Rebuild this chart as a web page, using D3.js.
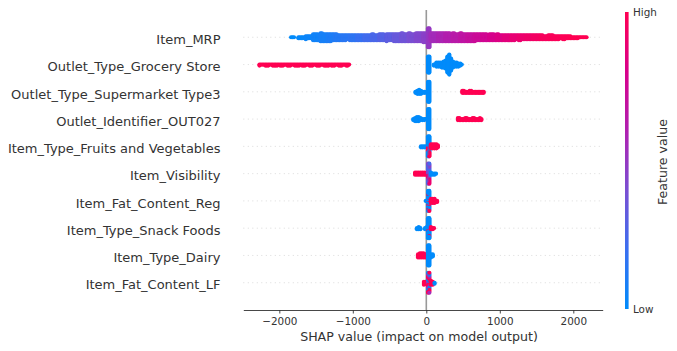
<!DOCTYPE html>
<html lang="en">
<head>
  <meta charset="UTF-8">
  <title>SHAP summary plot</title>
  <script src="https://d3js.org/d3.v7.min.js"></script>
  <style>
    body {
      margin: 0;
      background: #fff;
    }
    svg {
      display: block;
      font-family: "DejaVu Sans", sans-serif;
    }
    .ylab {
      font-size: 13px;
      fill: #333;
    }
  </style>
</head>
<body>
  <svg id="chart" width="677" height="351"></svg>

  <script>
    // Features, top to bottom
    const features = [
      "Item_MRP",
      "Outlet_Type_Grocery Store",
      "Outlet_Type_Supermarket Type3",
      "Outlet_Identifier_OUT027",
      "Item_Type_Fruits and Vegetables",
      "Item_Visibility",
      "Item_Fat_Content_Reg",
      "Item_Type_Snack Foods",
      "Item_Type_Dairy",
      "Item_Fat_Content_LF"
    ];

    // Each bin: [shap from, shap to, number of samples, feature value 0..1]
    const binsMRP = [
      [-1850, -1750, 3, 0.0], [-1750, -1650, 9, 0.02], [-1650, -1550, 16, 0.04],
      [-1550, -1450, 34, 0.06], [-1450, -1350, 42, 0.08], [-1350, -1250, 38, 0.1],
      [-1250, -1150, 32, 0.12], [-1150, -1050, 28, 0.14], [-1050, -950, 30, 0.16],
      [-950, -850, 30, 0.19], [-850, -750, 30, 0.22], [-750, -650, 32, 0.25],
      [-650, -550, 34, 0.28], [-550, -450, 36, 0.31], [-450, -350, 40, 0.34],
      [-350, -250, 42, 0.37], [-250, -150, 42, 0.4], [-150, -50, 45, 0.43],
      [-50, 15, 30, 0.46], [15, 50, 40, 0.5],
      [50, 150, 45, 0.55], [150, 250, 45, 0.58], [250, 350, 44, 0.61],
      [350, 450, 42, 0.64], [450, 550, 42, 0.67], [550, 650, 40, 0.7],
      [650, 750, 36, 0.73], [750, 850, 34, 0.76], [850, 950, 34, 0.79],
      [950, 1050, 32, 0.82], [1050, 1150, 30, 0.85], [1150, 1250, 28, 0.88],
      [1250, 1350, 27, 0.9], [1350, 1450, 25, 0.92], [1450, 1550, 25, 0.94],
      [1550, 1650, 22, 0.96], [1650, 1750, 24, 0.97], [1750, 1850, 18, 0.98],
      [1850, 1950, 17, 0.99], [1950, 2050, 11, 1], [2050, 2150, 6, 1], [2150, 2190, 2, 1]
    ];

    const binsGrocery = [
      [-2280, -2200, 5, 1], [-2200, -2100, 8, 1], [-2100, -2000, 9, 1], [-2000, -1900, 8, 1],
      [-1900, -1800, 8, 1], [-1800, -1700, 9, 1], [-1700, -1600, 8, 1], [-1600, -1500, 8, 1],
      [-1500, -1400, 8, 1], [-1400, -1300, 9, 1], [-1300, -1200, 8, 1], [-1200, -1100, 8, 1],
      [-1100, -1040, 5, 1],
      [15, 50, 34, 0],
      [95, 125, 3, 0], [125, 150, 5, 0], [150, 175, 5, 0], [175, 200, 5, 0],
      [200, 225, 6, 0], [225, 250, 7, 0], [250, 275, 9, 0], [275, 300, 17, 0],
      [300, 325, 21, 0], [325, 350, 13, 0], [350, 375, 7, 0], [375, 400, 5, 0],
      [400, 425, 5, 0], [425, 450, 4, 0], [450, 475, 3, 0], [475, 505, 1, 0]
    ];

    const binsSuper3 = [
      [-160, -135, 2, 0], [-135, -110, 4, 0], [-110, -85, 5, 0], [-85, -60, 4, 0],
      [-60, -35, 2, 0], [-35, -10, 2, 0], [-10, 15, 2, 0],
      [15, 50, 42, 0],
      [480, 580, 12, 1], [580, 680, 12, 1], [680, 790, 12, 1]
    ];

    const binsOUT027 = [
      [-190, -165, 2, 0], [-165, -140, 4, 0], [-140, -115, 5, 0], [-115, -90, 5, 0],
      [-90, -65, 3, 0], [-65, -40, 2, 0], [-40, -15, 2, 0], [-15, 15, 2, 0],
      [15, 50, 42, 0],
      [420, 520, 12, 1], [520, 620, 12, 1], [620, 720, 12, 1], [720, 760, 5, 1]
    ];

    const binsFruits = [
      [-85, -60, 2, 0], [-60, -35, 2, 0], [-35, -10, 2, 0], [-10, 15, 2, 0],
      [15, 50, 32, 0], [15, 50, 10, 1],
      [50, 75, 5, 1], [75, 100, 5, 1], [100, 125, 5, 1], [125, 150, 5, 1], [150, 165, 3, 1]
    ];

    const binsVisibility = [
      [-165, -140, 3, 1], [-140, -115, 3, 1], [-115, -90, 3, 1], [-90, -65, 3, 1],
      [-65, -40, 3, 1], [-40, -15, 3, 1], [-15, 15, 3, 1],
      [15, 50, 20, 0.25], [15, 50, 12, 0.45], [15, 50, 10, 0.9],
      [50, 75, 3, 0], [75, 100, 2, 0], [100, 125, 2, 0], [125, 140, 1, 0]
    ];

    const binsFatReg = [
      [-15, 15, 2, 0],
      [15, 50, 34, 0], [15, 50, 8, 1],
      [50, 75, 5, 1], [75, 100, 5, 1], [100, 125, 5, 1], [125, 155, 4, 1]
    ];

    const binsSnack = [
      [-140, -115, 2, 0], [-115, -90, 3, 0], [-90, -70, 2, 0],
      [-30, -5, 2, 0], [-5, 15, 3, 0],
      [15, 50, 40, 0], [15, 50, 2, 1],
      [50, 75, 3, 1], [75, 100, 2, 1], [100, 110, 1, 1]
    ];

    const binsDairy = [
      [-125, -100, 4, 1], [-100, -75, 5, 1], [-75, -50, 5, 1], [-50, -25, 5, 1], [-25, 15, 8, 1],
      [15, 50, 42, 0],
      [50, 75, 4, 0], [75, 100, 3, 0]
    ];

    const binsFatLF = [
      [-45, -20, 4, 1], [-20, 15, 6, 1],
      [15, 50, 18, 1], [15, 50, 12, 0.55], [15, 50, 12, 0],
      [50, 75, 5, 1], [75, 100, 4, 1], [100, 125, 2, 0]
    ];

    const rows = [binsMRP, binsGrocery, binsSuper3, binsOUT027, binsFruits,
                  binsVisibility, binsFatReg, binsSnack, binsDairy, binsFatLF];

    const xTicks = [-2000, -1000, 0, 1000, 2000];

    // colour map stops, low -> high
    const cmapStops = ["#008bfb", "#3a6ff0", "#7a4fd2", "#b020b0", "#d8008a", "#ff0052"];

    const svg = d3.select("#chart");

    // Scales
    const x = d3.scaleLinear().domain([-2490, 2400]).range([243.3, 602.7]);
    const y = d3.scaleLinear().domain([-1, features.length]).range([310, 10]);
    const rowY = i => y(features.length - 1 - i);
    const color = d3.piecewise(d3.interpolateRgb, cmapStops);

    const r = 2.1;
    const layerGap = 1;

    // Row guide lines and zero line
    svg.append("g")
      .selectAll("line")
      .data(features)
      .join("line")
      .attr("x1", x.range()[0])
      .attr("x2", x.range()[1])
      .attr("y1", (d, i) => rowY(i))
      .attr("y2", (d, i) => rowY(i))
      .attr("stroke", "#ccc")
      .attr("stroke-width", 0.7)
      .attr("stroke-dasharray", "1,3.5");

    svg.append("line")
      .attr("x1", x(0)).attr("x2", x(0))
      .attr("y1", y.range()[1]).attr("y2", y.range()[0])
      .attr("stroke", "#999")
      .attr("stroke-width", 1.6);

    // Beeswarm layout: stack the samples of each bin around the row centre
    function layout(bins, i) {
      const groups = d3.groups(bins, d => d[0] + "|" + d[1]);
      const pts = [];
      groups.forEach(([, parts]) => {
        const lo = parts[0][0], hi = parts[0][1];
        // mix the colours of parts that share a bin
        const mixed = [];
        parts.forEach(p => {
          for (let k = 0; k < p[2]; k++) mixed.push({ key: (k + 0.5) / p[2], fv: p[3] });
        });
        mixed.sort((a, b) => a.key - b.key);
        const px0 = x(lo), px1 = x(hi);
        const cols = Math.max(1, Math.round((px1 - px0) / 1.4));
        mixed.forEach((m, k) => {
          const col = k % cols;
          const layer = Math.floor(k / cols);
          const off = layer === 0 ? 0 : (layer % 2 ? (layer + 1) / 2 : -layer / 2);
          pts.push({
            cx: px0 + (col + 0.5) * (px1 - px0) / cols,
            cy: rowY(i) + off * layerGap,
            fv: m.fv
          });
        });
      });
      return pts;
    }

    rows.forEach((bins, i) => {
      svg.append("g")
        .selectAll("circle")
        .data(layout(bins, i))
        .join("circle")
        .attr("cx", d => d.cx)
        .attr("cy", d => d.cy)
        .attr("r", r)
        .attr("fill", d => color(d.fv));
    });

    // Feature names
    svg.append("g")
      .selectAll("text")
      .data(features)
      .join("text")
      .attr("class", "ylab")
      .attr("x", 220.5)
      .attr("y", (d, i) => rowY(i) + 2.2)
      .attr("text-anchor", "end")
      .attr("dominant-baseline", "central")
      .text(d => d);

    // x axis
    const xAxis = svg.append("g")
      .attr("transform", "translate(0,310)")
      .call(d3.axisBottom(x).tickValues(xTicks).tickFormat(d3.format("d"))
        .tickSize(3.5).tickSizeOuter(0).tickPadding(4));
    xAxis.select(".domain").attr("stroke", "#333").attr("stroke-width", 0.9);
    xAxis.selectAll(".tick line").attr("stroke", "#333").attr("stroke-width", 0.9);
    xAxis.selectAll("text")
      .style("font-family", "DejaVu Sans")
      .style("font-size", "10.4px")
      .attr("fill", "#333");

    svg.append("text")
      .attr("x", (x.range()[0] + x.range()[1]) / 2 - 4)
      .attr("y", 340.5)
      .attr("text-anchor", "middle")
      .style("font-size", "12.6px")
      .attr("fill", "#333")
      .text("SHAP value (impact on model output)");

    // Colour bar
    const cbTop = 12, cbBottom = 309, cbX = 625, cbW = 3.6;
    const grad = svg.append("defs").append("linearGradient")
      .attr("id", "cbar")
      .attr("x1", 0).attr("y1", 1).attr("x2", 0).attr("y2", 0);
    d3.range(0, 1.0001, 0.05).forEach(t => {
      grad.append("stop").attr("offset", t).attr("stop-color", color(t));
    });
    svg.append("rect")
      .attr("x", cbX).attr("y", cbTop)
      .attr("width", cbW).attr("height", cbBottom - cbTop)
      .attr("fill", "url(#cbar)");

    svg.append("text")
      .attr("x", 633).attr("y", cbTop + 4)
      .style("font-size", "10.4px").attr("fill", "#333")
      .text("High");
    svg.append("text")
      .attr("x", 633).attr("y", cbBottom + 4)
      .style("font-size", "10.4px").attr("fill", "#333")
      .text("Low");
    svg.append("text")
      .attr("transform", "translate(666.5,162) rotate(-90)")
      .attr("text-anchor", "middle")
      .style("font-size", "12.6px")
      .attr("fill", "#333")
      .text("Feature value");
  </script>
</body>
</html>
